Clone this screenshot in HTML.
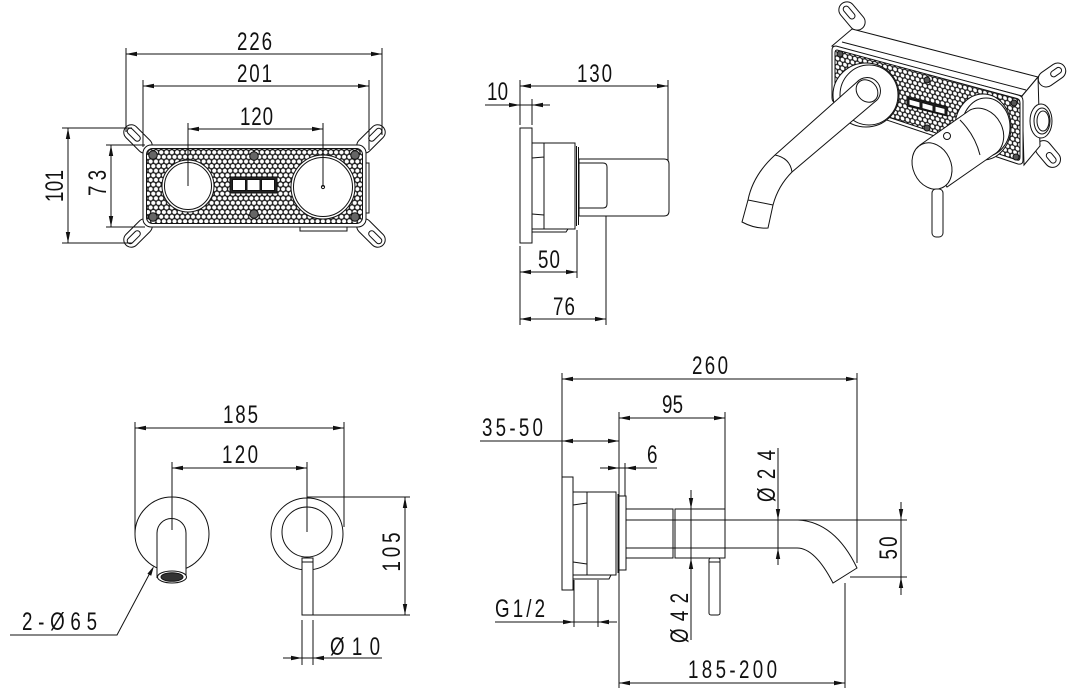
<!DOCTYPE html>
<html><head><meta charset="utf-8"><style>
html,body{margin:0;padding:0;background:#fff;}
svg{display:block;}
text{font-family:"Liberation Sans Narrow","Liberation Sans",sans-serif;font-size:25px;fill:#111;}
</style></head><body>
<svg width="1073" height="696" viewBox="0 0 1073 696" xmlns="http://www.w3.org/2000/svg">
<defs>
<pattern id="mesh" width="5.3" height="9.2" patternUnits="userSpaceOnUse" x="148" y="150">
<rect width="5.3" height="9.2" fill="#1a1a1a"/>
<circle cx="2.65" cy="2.3" r="2.1" fill="#fff"/>
<circle cx="0" cy="6.9" r="2.1" fill="#fff"/>
<circle cx="5.3" cy="6.9" r="2.1" fill="#fff"/>
</pattern>
<pattern id="mesh2" width="5" height="8.6" patternUnits="userSpaceOnUse" patternTransform="skewY(14.7)">
<rect width="5" height="8.6" fill="#1a1a1a"/>
<circle cx="2.5" cy="2.15" r="1.9" fill="#fff"/>
<circle cx="0" cy="6.45" r="1.9" fill="#fff"/>
<circle cx="5" cy="6.45" r="1.9" fill="#fff"/>
</pattern>
</defs>

<g stroke="#111" stroke-width="1" fill="none">
<!-- ================= TOP LEFT: front view of box ================= -->
<g transform="translate(138,139) rotate(45)"><rect x="-17" y="-7.5" width="34" height="15" rx="7.5" fill="#fff"/><rect x="-14" y="-3" width="16" height="6" rx="3"/></g>
<g transform="translate(371,139) rotate(135)"><rect x="-17" y="-7.5" width="34" height="15" rx="7.5" fill="#fff"/><rect x="-14" y="-3" width="16" height="6" rx="3"/></g>
<g transform="translate(138,233) rotate(-45)"><rect x="-17" y="-7.5" width="34" height="15" rx="7.5" fill="#fff"/><rect x="-14" y="-3" width="16" height="6" rx="3"/></g>
<g transform="translate(371,233) rotate(-135)"><rect x="-17" y="-7.5" width="34" height="15" rx="7.5" fill="#fff"/><rect x="-14" y="-3" width="16" height="6" rx="3"/></g>
<rect x="366" y="163" width="3" height="50" fill="#fff"/>
<rect x="300" y="227" width="47" height="4" fill="#fff"/>
<rect x="143" y="145" width="223" height="82" rx="8" fill="#fff"/>
<rect x="146.5" y="148.5" width="216" height="75" rx="6" fill="url(#mesh)"/>
<circle cx="188" cy="186" r="26" fill="#fff"/>
<circle cx="188" cy="186" r="23.5"/>
<circle cx="323" cy="187" r="32" fill="#fff"/>
<circle cx="323" cy="187" r="29.5"/>
<circle cx="323" cy="187" r="1.6"/>
<rect x="230" y="177" width="47" height="16" fill="#222"/>
<rect x="232.5" y="179.5" width="13" height="11" fill="#fff"/>
<rect x="247" y="179.5" width="13" height="11" fill="#fff"/>
<rect x="261.5" y="179.5" width="13" height="11" fill="#fff"/>
<g fill="#666">
<circle cx="153" cy="155" r="4.3"/><circle cx="355" cy="155" r="4.3"/>
<circle cx="153" cy="217" r="4.3"/><circle cx="355" cy="217" r="4.3"/>
<circle cx="254" cy="156" r="4.3"/><circle cx="254" cy="214" r="4.3"/>
</g>
<path d="M126,54H382 M126,48V132 M382,48V135"/>
<path d="M143,86H369 M143,80V147 M369,80V150"/>
<path d="M188,129H323 M188,123V186 M323,123V187"/>
<path d="M68,128V243 M62,128H132 M62,243H132"/>
<path d="M111,145V227 M106,145H145 M106,227H145"/>

<!-- ================= TOP MIDDLE: side view ================= -->
<rect x="520" y="128" width="12" height="115" fill="#fff"/>
<rect x="532" y="143" width="43" height="86" fill="#fff"/>
<path d="M544,143V229 M532,158L544,157 M532,214L544,215 M576.5,146V226 M578.5,147V225"/>
<path d="M532,229V232H566L568,229"/>
<path d="M579,159H664Q669,159 669,164V211Q669,216 664,216H579Z" fill="#fff"/>
<path d="M579,163H603Q607,163 607,167V204Q607,208 603,208H579"/>
<path d="M520,86H668 M520,80V125 M668,80V160"/>
<path d="M485,105H550 M532,99V125"/>
<path d="M520,272H577 M520,246V325 M577,230V278"/>
<path d="M520,319H606 M606,216V325"/>

<!-- ================= TOP RIGHT: isometric ================= -->
<g transform="translate(852,16) rotate(50)"><rect x="-16" y="-8" width="32" height="16" rx="8" fill="#fff"/><rect x="-12" y="-3" width="15" height="6" rx="3"/></g>
<g transform="translate(1052,75) rotate(-35)"><rect x="-15" y="-8" width="30" height="16" rx="8" fill="#fff"/><rect x="-1" y="-3" width="12" height="6" rx="3"/></g>
<g transform="translate(1048,154) rotate(50)"><rect x="-15" y="-8" width="30" height="16" rx="8" fill="#fff"/><rect x="-1" y="-3" width="12" height="6" rx="3"/></g>
<path d="M832,46L852,29L1038,77L1022,96Z" fill="#fff"/>
<path d="M842,42L1026,90"/>
<path d="M1022,96L1038,77L1040,146L1024,165Z" fill="#fff"/>
<ellipse cx="1041" cy="121" rx="11" ry="17" fill="#fff"/>
<ellipse cx="1042" cy="121" rx="8" ry="13"/>
<ellipse cx="1043" cy="121" rx="6" ry="10"/>
<path d="M836,46L1018,95Q1023,96 1023,101L1023,160Q1023,165 1018,164L836,103Q832,102 832,98L832,50Q832,46 836,46Z" fill="#fff"/>
<path d="M837,50L1017,98.5Q1020,99.5 1020,103L1020,157Q1020,161 1017,160L837,100Q835,99 835,96L835,53Q835,50 837,50Z" fill="url(#mesh2)"/>
<path d="M907,97L947,107L947,116L907,106Z" fill="#222"/>
<path d="M909,99L920,102L920,108L909,105Z M922,102.5L933,105.5L933,111.5L922,108.5Z M935,106L945,108.5L945,114.5L935,112Z" fill="#fff"/>
<g fill="#555"><circle cx="927" cy="80" r="3"/><circle cx="927" cy="128" r="3"/><circle cx="840" cy="54" r="3"/><circle cx="838" cy="95" r="3"/><circle cx="1014" cy="103" r="3"/><circle cx="1016" cy="157" r="3"/></g>
<ellipse cx="866" cy="95" rx="33" ry="32" fill="#fff"/>
<ellipse cx="869" cy="95" rx="29" ry="30"/>
<path d="M857,82L775,155Q753,175 748,200L742,222Q755,229 768,228L773,205Q778,186 792,172L877,100A12,12 0 0 0 857,82Z" fill="#fff"/>
<path d="M775,155Q790,158 792,172 M748,200L773,205"/>
<ellipse cx="867" cy="91" rx="10" ry="12" transform="rotate(-40 867 91)" fill="#fff"/>
<ellipse cx="983" cy="127" rx="28" ry="33" fill="#fff"/>
<ellipse cx="986" cy="127" rx="24" ry="29"/>
<path d="M920,145L970,110A20,24 -30 0 1 993,155L947,187Z" fill="#fff"/>
<path d="M960,120Q975,135 980,155"/>
<circle cx="947" cy="136" r="3.5" fill="#fff"/>
<ellipse cx="932" cy="166" rx="19" ry="24" transform="rotate(-25 932 166)" fill="#fff"/>
<rect x="932" y="189" width="11" height="48" rx="4" fill="#fff"/>

<!-- ================= BOTTOM LEFT: front view ================= -->
<circle cx="172" cy="534" r="37" fill="#fff"/>
<circle cx="307" cy="534" r="36" fill="#fff"/>
<path d="M157,578V533A14.5,14.5 0 0 1 186,533V578" fill="#fff"/>
<ellipse cx="172" cy="577" rx="14.5" ry="6" fill="#fff"/>
<ellipse cx="172" cy="577" rx="11" ry="4.3" fill="#333"/>
<circle cx="307" cy="532" r="25" fill="#fff"/>
<rect x="302" y="558" width="11" height="57" fill="#fff"/>
<path d="M302,562H313"/>
<path d="M135,428H344 M135,422V533 M344,422V527"/>
<path d="M172,468H307 M172,462V530 M307,462V532"/>
<path d="M405,497V615 M307,497H410 M313,615H410"/>
<path d="M283,658H382 M302,620V665 M313,620V665"/>
<path d="M10,635H117L151,571"/>

<!-- ================= BOTTOM RIGHT: side view ================= -->
<rect x="562" y="477" width="11" height="113" fill="#fff"/>
<rect x="573" y="492" width="43" height="83" fill="#fff"/>
<path d="M587,492V575 M573,505L587,503 M573,562L587,564 M618,494V573"/>
<path d="M573,575V579H609L611,575"/>
<rect x="619" y="496" width="7" height="74" fill="#fff"/>
<rect x="626" y="509" width="47" height="49" fill="#fff"/>
<rect x="675" y="509" width="50" height="49" fill="#fff"/>
<path d="M626,520H907 M626,548H797"/>
<path d="M798,520Q835,522 857,568L833,583Q815,548 797,548"/>
<rect x="709" y="558" width="11" height="57" rx="2" fill="#fff"/>
<path d="M709,562H720"/>
<path d="M562,379H857 M562,373V477 M857,373V563"/>
<path d="M619,418H725 M619,412V688 M725,412V530"/>
<path d="M480,441H619"/>
<path d="M600,468H657 M625,463V496"/>
<path d="M691,490V640"/>
<path d="M778,448V565"/>
<path d="M901,502V595 M850,577H907"/>
<path d="M619,683H845 M845,583V688"/>
<path d="M495,622H617 M574,580V627 M598,580V627"/>
</g>

<!-- arrowheads -->
<g fill="#111" stroke="none">
<polygon points="126,54 137,51.8 137,56.2"/><polygon points="382,54 371,51.8 371,56.2"/>
<polygon points="143,86 154,83.8 154,88.2"/><polygon points="369,86 358,83.8 358,88.2"/>
<polygon points="188,129 199,126.8 199,131.2"/><polygon points="323,129 312,126.8 312,131.2"/>
<polygon points="68,128 65.8,139 70.2,139"/><polygon points="68,243 65.8,232 70.2,232"/>
<polygon points="111,145 108.8,156 113.2,156"/><polygon points="111,227 108.8,216 113.2,216"/>
<polygon points="520,86 531,83.8 531,88.2"/><polygon points="668,86 657,83.8 657,88.2"/>
<polygon points="520,105 509,102.8 509,107.2"/><polygon points="532,105 543,102.8 543,107.2"/>
<polygon points="520,272 531,269.8 531,274.2"/><polygon points="577,272 566,269.8 566,274.2"/>
<polygon points="520,319 531,316.8 531,321.2"/><polygon points="606,319 595,316.8 595,321.2"/>
<polygon points="135,428 146,425.8 146,430.2"/><polygon points="344,428 333,425.8 333,430.2"/>
<polygon points="172,468 183,465.8 183,470.2"/><polygon points="307,468 296,465.8 296,470.2"/>
<polygon points="405,497 402.8,508 407.2,508"/><polygon points="405,615 402.8,604 407.2,604"/>
<polygon points="302,658 291,655.8 291,660.2"/><polygon points="313,658 324,655.8 324,660.2"/>
<polygon points="154,566 151.2,575.8 147.4,573.8"/>
<polygon points="562,379 573,376.8 573,381.2"/><polygon points="857,379 846,376.8 846,381.2"/>
<polygon points="619,418 630,415.8 630,420.2"/><polygon points="725,418 714,415.8 714,420.2"/>
<polygon points="562,441 573,438.8 573,443.2"/><polygon points="619,441 608,438.8 608,443.2"/>
<polygon points="619,468 608,465.8 608,470.2"/><polygon points="625,468 636,465.8 636,470.2"/>
<polygon points="691,509 688.8,498 693.2,498"/><polygon points="691,558 688.8,569 693.2,569"/>
<polygon points="778,520 775.8,509 780.2,509"/><polygon points="778,548 775.8,559 780.2,559"/>
<polygon points="901,520 898.8,509 903.2,509"/><polygon points="901,577 898.8,588 903.2,588"/>
<polygon points="619,683 630,680.8 630,685.2"/><polygon points="845,683 834,680.8 834,685.2"/>
<polygon points="574,622 563,619.8 563,624.2"/><polygon points="598,622 609,619.8 609,624.2"/>
</g>

<!-- labels (narrow CAD-like glyphs with wide spacing) -->
<g transform="translate(237,50) scale(0.75,1)"><text textLength="46.7" lengthAdjust="spacing">226</text></g>
<g transform="translate(237,82) scale(0.75,1)"><text textLength="46.7" lengthAdjust="spacing">201</text></g>
<g transform="translate(240,125) scale(0.75,1)"><text textLength="44" lengthAdjust="spacing">120</text></g>
<g transform="translate(63,186) rotate(-90) scale(0.75,1)"><text text-anchor="middle" textLength="42.7" lengthAdjust="spacing">101</text></g>
<g transform="translate(106,183) rotate(-90) scale(0.75,1)"><text text-anchor="middle" textLength="34.7" lengthAdjust="spacing">73</text></g>

<g transform="translate(577,82) scale(0.75,1)"><text textLength="46.7" lengthAdjust="spacing">130</text></g>
<g transform="translate(487,100) scale(0.75,1)"><text textLength="28" lengthAdjust="spacing">10</text></g>
<g transform="translate(538,268) scale(0.75,1)"><text textLength="29.3" lengthAdjust="spacing">50</text></g>
<g transform="translate(553,315) scale(0.75,1)"><text textLength="29.3" lengthAdjust="spacing">76</text></g>

<g transform="translate(223,423) scale(0.75,1)"><text textLength="46.7" lengthAdjust="spacing">185</text></g>
<g transform="translate(222,463) scale(0.75,1)"><text textLength="48" lengthAdjust="spacing">120</text></g>
<g transform="translate(400,552) rotate(-90) scale(0.75,1)"><text text-anchor="middle" textLength="52" lengthAdjust="spacing">105</text></g>
<g transform="translate(22,630) scale(0.75,1)"><text textLength="100" lengthAdjust="spacing">2-Ø65</text></g>
<g transform="translate(330,655) scale(0.75,1)"><text textLength="66.7" lengthAdjust="spacing">Ø10</text></g>

<g transform="translate(692,374) scale(0.75,1)"><text textLength="48" lengthAdjust="spacing">260</text></g>
<g transform="translate(662,413) scale(0.75,1)"><text textLength="28" lengthAdjust="spacing">95</text></g>
<g transform="translate(482,436) scale(0.75,1)"><text textLength="81.3" lengthAdjust="spacing">35-50</text></g>
<g transform="translate(647,463) scale(0.75,1)"><text>6</text></g>
<g transform="translate(495,617) scale(0.75,1)"><text textLength="66.7" lengthAdjust="spacing">G1/2</text></g>
<g transform="translate(688,618) rotate(-90) scale(0.75,1)"><text text-anchor="middle" textLength="66.7" lengthAdjust="spacing">Ø42</text></g>
<g transform="translate(775,476) rotate(-90) scale(0.75,1)"><text text-anchor="middle" textLength="69.3" lengthAdjust="spacing">Ø24</text></g>
<g transform="translate(897,548) rotate(-90) scale(0.75,1)"><text text-anchor="middle" textLength="30.7" lengthAdjust="spacing">50</text></g>
<g transform="translate(688,678) scale(0.75,1)"><text textLength="118.7" lengthAdjust="spacing">185-200</text></g>
</svg>
</body></html>
